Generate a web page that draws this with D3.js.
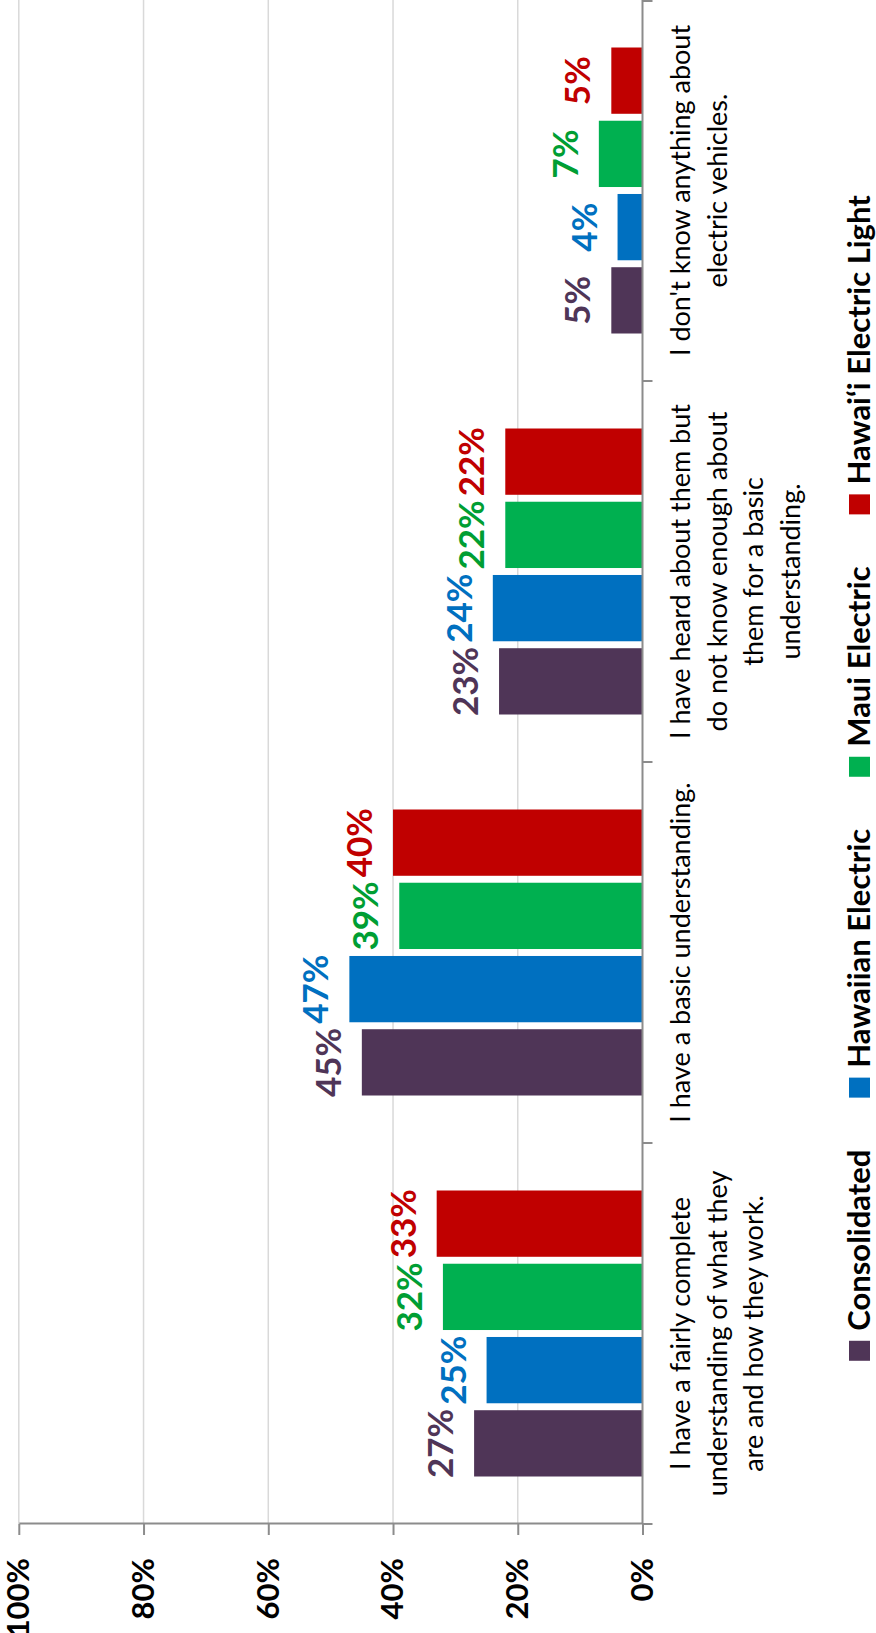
<!DOCTYPE html>
<html>
<head>
<meta charset="utf-8">
<script src="https://cdn.jsdelivr.net/npm/d3@7"></script>
<style>
  body { margin: 0; background: #fff; }
  svg { display: block; }
  text { font-family: Lato, "Open Sans", sans-serif; }
</style>
</head>
<body>
<script>
// Survey: familiarity with electric vehicles, by utility
const categories = ["complete", "basic", "heard", "none"];
const categoryLines = [
  ["I have a fairly complete", "understanding of what they", "are and how they work."],
  ["I have a basic understanding."],
  ["I have heard about them but", "do not know enough about", "them for a basic", "understanding."],
  ["I don't know anything about", "electric vehicles."]
];
const seriesNames = ["Consolidated", "Hawaiian Electric", "Maui Electric", "Hawai\u2018i Electric Light"];
const consolidated        = [27, 45, 23, 5];
const hawaiianElectric    = [25, 47, 24, 4];
const mauiElectric        = [32, 39, 22, 7];
const hawaiiElectricLight = [33, 40, 22, 5];
const valueTicks = [0, 20, 40, 60, 80, 100];

const seriesValues = [consolidated, hawaiianElectric, mauiElectric, hawaiiElectricLight];
const barColors   = ["#4F3557", "#0070C0", "#00B050", "#C00000"];
const labelColors = ["#4F3557", "#0070C0", "#009E33", "#C00000"];

// The chart is laid out as an ordinary column chart (W x H) and then turned
// a quarter turn counter-clockwise onto the page.
const pageW = 876, pageH = 1633;
const W = pageH, H = pageW;

const svg = d3.select("body").append("svg")
  .attr("width", pageW).attr("height", pageH);

const g = svg.append("g")
  .attr("transform", `translate(0,${pageH}) rotate(-90)`);

const plotLeft = 109, plotRight = W, baseY = 642.5, topY = 18.8;

const x0 = d3.scaleBand().domain(categories).range([plotLeft, plotRight]);
const outerPad = 47.5;
const x1 = d3.scaleBand().domain(seriesNames)
  .range([outerPad, x0.bandwidth() - outerPad])
  .paddingInner(0.095);
const y = d3.scaleLinear().domain([0, 100]).range([baseY, topY]);

// gridlines
g.append("g").selectAll("line")
  .data(valueTicks.filter(t => t > 0))
  .join("line")
  .attr("x1", plotLeft).attr("x2", plotRight)
  .attr("y1", d => y(d)).attr("y2", d => y(d))
  .attr("stroke", "#D9D9D9").attr("stroke-width", 1.5);

// bars
const catG = g.append("g").selectAll("g")
  .data(categories)
  .join("g")
  .attr("transform", c => `translate(${x0(c)},0)`);

const cellsOf = (c, ci) => seriesNames.map((s, si) => ({ s, si, v: seriesValues[si][ci] }));

catG.selectAll("rect")
  .data(cellsOf)
  .join("rect")
  .attr("x", d => x1(d.s))
  .attr("width", x1.bandwidth())
  .attr("y", d => y(d.v))
  .attr("height", d => baseY - y(d.v))
  .attr("fill", d => barColors[d.si]);

// value labels
catG.selectAll("text.val")
  .data(cellsOf)
  .join("text")
  .attr("class", "val")
  .attr("x", d => x1(d.s) + x1.bandwidth() / 2)
  .attr("y", d => y(d.v) - 21)
  .attr("text-anchor", "middle")
  .attr("font-size", 35)
  .attr("font-weight", "bold")
  .attr("fill", d => labelColors[d.si])
  .text(d => d.v + "%");

// value axis
const yAxis = g.append("g")
  .attr("transform", `translate(${plotLeft},0)`)
  .call(d3.axisLeft(y).tickValues(valueTicks).tickFormat(d => d + "%")
    .tickSize(11).tickSizeOuter(0).tickPadding(23));
yAxis.select(".domain").attr("stroke", "#8C8C8C").attr("stroke-width", 2);
yAxis.selectAll(".tick line").attr("stroke", "#8C8C8C").attr("stroke-width", 2);
yAxis.selectAll(".tick text")
  .attr("font-size", 31).attr("font-weight", "bold").attr("fill", "#000")
  .style("font-family", "Lato, sans-serif");

// category axis with ticks on band boundaries
const catAxis = g.append("g");
catAxis.append("line")
  .attr("x1", plotLeft).attr("x2", plotRight)
  .attr("y1", baseY).attr("y2", baseY)
  .attr("stroke", "#8C8C8C").attr("stroke-width", 2);
const bounds = categories.map(c => x0(c)).concat([x0.range()[1] - 1]);
catAxis.selectAll("line.tk")
  .data(bounds)
  .join("line")
  .attr("class", "tk")
  .attr("x1", d => d).attr("x2", d => d)
  .attr("y1", baseY).attr("y2", baseY + 10)
  .attr("stroke", "#8C8C8C").attr("stroke-width", 2);

// category labels
const catLabels = g.append("g").selectAll("text")
  .data(categories)
  .join("text")
  .attr("text-anchor", "middle")
  .attr("font-size", 27)
  .attr("fill", "#000")
  .attr("transform", c => `translate(${x0(c) + x0.bandwidth() / 2},690)`);
catLabels.selectAll("tspan")
  .data((c, i) => categoryLines[i])
  .join("tspan")
  .attr("x", 0)
  .attr("y", (d, i) => i * 36.7)
  .text(d => d);

// legend
const legend = g.append("g");
const items = legend.selectAll("g")
  .data(seriesNames)
  .join("g");
items.append("rect")
  .attr("width", 20).attr("height", 21)
  .attr("y", 849)
  .attr("fill", (d, i) => barColors[i]);
items.append("text")
  .attr("x", 30).attr("y", 870)
  .attr("font-size", 31).attr("font-weight", "bold").attr("fill", "#000")
  .text(d => d);
const widths = [];
items.each(function () {
  widths.push(30 + d3.select(this).select("text").node().getComputedTextLength());
});
const gapBetween = 52;
const total = d3.sum(widths) + gapBetween * (widths.length - 1);
const legendCenter = 855;
let cursor = legendCenter - total / 2;
items.attr("transform", (d, i) => {
  const t = `translate(${cursor},0)`;
  cursor += widths[i] + gapBetween;
  return t;
});
</script>
</body>
</html>
